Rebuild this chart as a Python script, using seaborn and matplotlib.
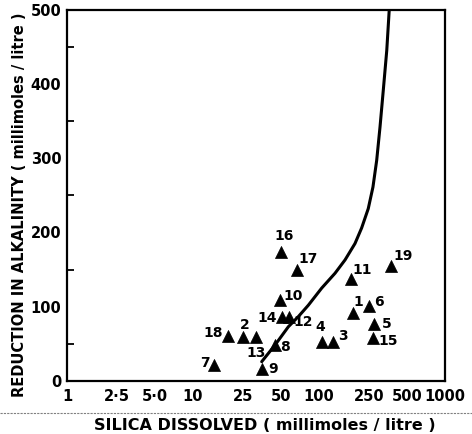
import matplotlib
matplotlib.use("Agg")
import matplotlib.pyplot as plt
import seaborn as sns
import pandas as pd
from matplotlib.lines import Line2D
from matplotlib.ticker import FixedLocator, NullLocator, MultipleLocator

# ---- data ----
sample_ids = ["1", "2", "3", "4", "5", "6", "7", "8", "9", "10",
              "11", "12", "13", "14", "15", "16", "17", "18", "19"]
silica = [187, 25.1, 130, 106, 275, 249, 14.8, 44.7, 35.5, 49,
          179, 58.1, 31.8, 50.6, 270, 49.7, 67.3, 19.1, 371]
alkalinity = [92, 59, 52, 52, 77, 101, 21, 48.5, 16, 109,
              137, 86.5, 59, 86.5, 57.5, 173, 150, 60.6, 155]

curve_silica = [35.1, 44.8, 57.1, 68.5, 82.3, 105, 134, 161, 193, 218,
                246, 268, 287, 305, 324, 345, 361]
curve_alk = [26, 48.5, 73, 86.6, 102, 125, 145, 163, 185, 206,
             232, 261, 297, 342, 392, 445, 500]

x_ticks = [1, 2.5, 5, 10, 25, 50, 100, 250, 500, 1000]
x_tick_labels = ["1", "2·5", "5·0", "10", "25", "50", "100", "250", "500", "1000"]
y_ticks = [0, 100, 200, 300, 400, 500]

# label offsets (pixels) - styling
label_offsets = {
    "1": (5, 11), "2": (1, 12), "3": (10, 6), "4": (-2, 15), "5": (12, 0),
    "6": (10, 4), "7": (-10, 2), "8": (10, -2), "9": (11, 0), "10": (13, 4),
    "11": (11, 9), "12": (14, -5), "13": (0, -16), "14": (-15, -1),
    "15": (15, -3), "16": (3, 16), "17": (11, 11), "18": (-15, 3), "19": (12, 10),
}

pts = pd.DataFrame({"id": sample_ids, "silica": silica, "alk": alkalinity})
crv = pd.DataFrame({"silica": curve_silica, "alk": curve_alk})

sns.set_theme(style="white")
plt.rcParams["font.family"] = ["DejaVu Sans"]
plt.rcParams["font.weight"] = "bold"
plt.rcParams["text.color"] = "black"
plt.rcParams["axes.labelcolor"] = "black"

fig = plt.figure(figsize=(4.72, 4.34), dpi=100)
ax = fig.add_axes([67 / 472, (434 - 381) / 434, (445 - 67) / 472, (381 - 9.5) / 434])

sns.lineplot(data=crv, x="silica", y="alk", sort=False, color="black",
             linewidth=2.2, ax=ax, estimator=None)
sns.scatterplot(data=pts, x="silica", y="alk", marker="^", s=75, color="black",
                edgecolor="black", linewidth=0.5, ax=ax, zorder=3)

for sid, xv, yv in zip(sample_ids, silica, alkalinity):
    dx, dy = label_offsets[sid]
    ax.annotate(sid, (xv, yv), xytext=(dx, dy), textcoords="offset pixels",
                ha="center", va="center", fontsize=10, fontweight="bold", color="black")

ax.set_xscale("log")
ax.set_xlim(1, 1000)
ax.set_ylim(0, 500)
ax.xaxis.set_major_locator(FixedLocator(x_ticks))
ax.xaxis.set_minor_locator(NullLocator())
ax.set_xticklabels(x_tick_labels)
ax.yaxis.set_major_locator(FixedLocator(y_ticks))
ax.yaxis.set_minor_locator(MultipleLocator(50))

for s in ax.spines.values():
    s.set_visible(True)
    s.set_color("black")
    s.set_linewidth(1.6)

ax.tick_params(axis="both", which="major", direction="in", length=7, width=1.5,
               labelsize=10.5, color="black", labelcolor="black", pad=4)
ax.tick_params(axis="y", which="minor", direction="in", length=5, width=1.3, color="black", left=True)
ax.tick_params(axis="x", which="major", pad=6)
for lab in ax.get_xticklabels() + ax.get_yticklabels():
    lab.set_fontweight("bold")

ax.set_xlabel("")
ax.set_ylabel("")
fig.text(265 / 472, (434 - 425) / 434, "SILICA DISSOLVED ( millimoles / litre )",
         ha="center", va="center", fontsize=11.5, fontweight="bold", color="black")
fig.text(20 / 472, (434 - 205) / 434, "REDUCTION IN ALKALINITY ( millimoles / litre )",
         ha="center", va="center", rotation=90, fontsize=10.5, fontweight="bold", color="black")

fig.add_artist(Line2D([0, 1], [(434 - 413) / 434] * 2, transform=fig.transFigure,
                      color="gray", linewidth=0.8, linestyle=(0, (2, 1))))

fig.savefig("out.png", dpi=100, facecolor="white")
